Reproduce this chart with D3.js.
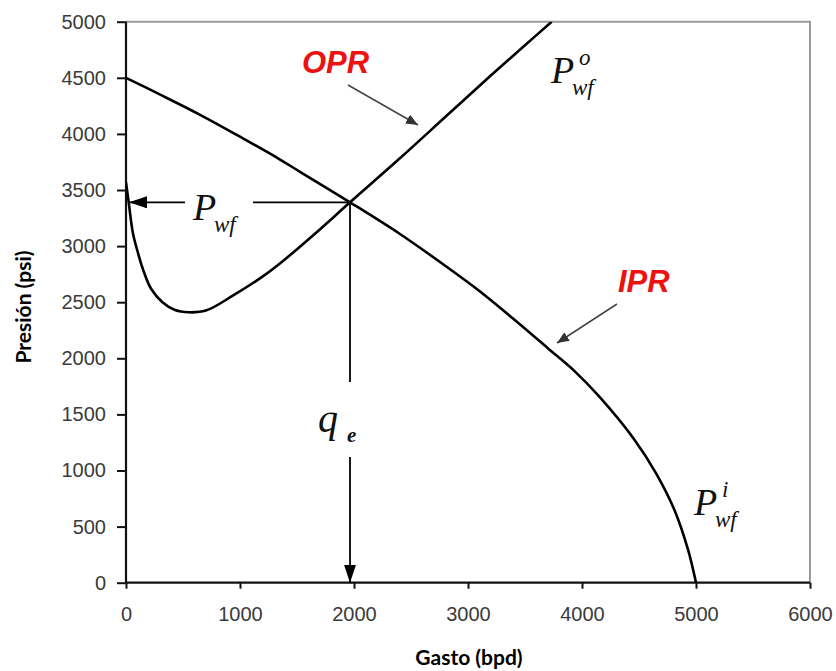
<!DOCTYPE html>
<html>
<head>
<meta charset="utf-8">
<script src="https://cdn.jsdelivr.net/npm/d3@7"></script>
<style>
  html, body { margin: 0; padding: 0; background: #fff; }
  svg { display: block; }
</style>
</head>
<body>
<svg id="chart" width="836" height="671"></svg>
<script>
// ---- data ----
const xTicks = [0, 1000, 2000, 3000, 4000, 5000, 6000];
const yTicks = [0, 500, 1000, 1500, 2000, 2500, 3000, 3500, 4000, 4500, 5000];

// IPR curve (Gasto bpd, Presión psi)
const iprQ = [0, 300, 650, 1000, 1330, 1530, 1965, 2400, 2800, 3100, 3400, 3700, 3930, 4150, 4460, 4650, 4810, 4930, 4985, 5000];
const iprP = [4500, 4350, 4170, 3975, 3785, 3660, 3390, 3110, 2825, 2600, 2350, 2090, 1890, 1660, 1275, 975, 650, 295, 70, 0];

// OPR curve
const oprQ = [0, 25, 60, 105, 150, 220, 320, 430, 550, 700, 940, 1200, 1380, 1675, 1965, 2400, 2800, 3200, 3500, 3734];
const oprP = [3570, 3380, 3120, 2940, 2790, 2620, 2500, 2430, 2410, 2425, 2560, 2730, 2870, 3126, 3390, 3780, 4150, 4520, 4790, 5000];

// operating point
const qe = 1965, pwf = 3390;

// ---- layout ----
const svg = d3.select("#chart");
const L = 126, R = 810, T = 21.7, B = 582.7;
const x = d3.scaleLinear().domain([0, 6000]).range([L, R]);
const y = d3.scaleLinear().domain([0, 5000]).range([B, T]);

const defs = svg.append("defs");
defs.append("clipPath").attr("id", "clip")
  .append("rect").attr("x", L).attr("y", T).attr("width", R - L).attr("height", B - T);
defs.append("marker").attr("id", "blackArrow")
  .attr("viewBox", "0 0 18 12").attr("refX", 18).attr("refY", 6)
  .attr("markerWidth", 18).attr("markerHeight", 12).attr("markerUnits", "userSpaceOnUse")
  .attr("orient", "auto")
  .append("path").attr("d", "M0,0 L18,6 L0,12 Z").attr("fill", "#000");
defs.append("marker").attr("id", "grayArrow")
  .attr("viewBox", "0 0 12 10").attr("refX", 12).attr("refY", 5)
  .attr("markerWidth", 12).attr("markerHeight", 10).attr("markerUnits", "userSpaceOnUse")
  .attr("orient", "auto")
  .append("path").attr("d", "M0,0 L12,5 L0,10 Z").attr("fill", "#333");

// frame (gray top & right)
svg.append("path")
  .attr("d", `M${L},${T} L${R},${T} L${R},${B}`)
  .attr("fill", "none").attr("stroke", "#9a9a9a").attr("stroke-width", 2);

// axes
const yAxis = svg.append("g").attr("transform", `translate(${L},0)`)
  .call(d3.axisLeft(y).tickValues(yTicks).tickSize(9).tickPadding(11).tickFormat(d3.format("d")));
const xAxis = svg.append("g").attr("transform", `translate(0,${B})`)
  .call(d3.axisBottom(x).tickValues(xTicks).tickSize(6).tickPadding(18).tickFormat(d3.format("d")));
[xAxis, yAxis].forEach(g => {
  g.select(".domain").attr("stroke", "#111").attr("stroke-width", 2.2);
  g.selectAll(".tick line").attr("stroke", "#111").attr("stroke-width", 2);
  g.selectAll(".tick text").attr("fill", "#3a3a3a")
    .style("font-family", "'Liberation Sans', Arial, sans-serif").style("font-size", "20px");
});
xAxis.select(".domain").attr("d", `M${L},0H${R}`);
yAxis.select(".domain").attr("d", `M0,${B}V${T}`);

// axis titles
svg.append("text").attr("x", 469).attr("y", 665).attr("text-anchor", "middle")
  .style("font-family", "Lato, 'Open Sans', sans-serif").style("font-weight", "bold").style("font-size", "21px")
  .attr("fill", "#000").text("Gasto (bpd)");
svg.append("text").attr("transform", "translate(31,307) rotate(-90)").attr("text-anchor", "middle")
  .style("font-family", "Lato, 'Open Sans', sans-serif").style("font-weight", "bold").style("font-size", "21px")
  .attr("fill", "#000").text("Presión (psi)");

// curves
const line = d3.line().x(d => x(d[0])).y(d => y(d[1])).curve(d3.curveCatmullRom.alpha(0.5));
const plot = svg.append("g").attr("clip-path", "url(#clip)");
plot.append("path").datum(iprQ.map((q, i) => [q, iprP[i]]))
  .attr("d", line).attr("fill", "none").attr("stroke", "#000").attr("stroke-width", 2.6);
plot.append("path").datum(oprQ.map((q, i) => [q, oprP[i]]))
  .attr("d", line).attr("fill", "none").attr("stroke", "#000").attr("stroke-width", 2.6);

// operating point guide lines
const ix = x(qe), iy = y(pwf);
svg.append("line").attr("x1", ix).attr("y1", iy).attr("x2", 253).attr("y2", iy)
  .attr("stroke", "#000").attr("stroke-width", 1.8);
svg.append("line").attr("x1", 185).attr("y1", iy).attr("x2", x(0) + 3).attr("y2", iy)
  .attr("stroke", "#000").attr("stroke-width", 1.8).attr("marker-end", "url(#blackArrow)");
svg.append("line").attr("x1", ix).attr("y1", iy).attr("x2", ix).attr("y2", 382)
  .attr("stroke", "#000").attr("stroke-width", 1.8);
svg.append("line").attr("x1", ix).attr("y1", 457).attr("x2", ix).attr("y2", y(0))
  .attr("stroke", "#000").attr("stroke-width", 1.8).attr("marker-end", "url(#blackArrow)");

// red labels with arrows
const redStyle = s => s.style("font-family", "'Liberation Sans', Arial, sans-serif")
  .style("font-weight", "bold").style("font-style", "italic").style("font-size", "31px").attr("fill", "#ee1111");
svg.append("text").attr("x", 302).attr("y", 73).text("OPR").call(redStyle);
svg.append("text").attr("x", 618).attr("y", 292).text("IPR").call(redStyle);
svg.append("line").attr("x1", 348).attr("y1", 85).attr("x2", 418).attr("y2", 125)
  .attr("stroke", "#444").attr("stroke-width", 1.5).attr("marker-end", "url(#grayArrow)");
svg.append("line").attr("x1", 617).attr("y1", 304).attr("x2", 557).attr("y2", 343)
  .attr("stroke", "#444").attr("stroke-width", 1.5).attr("marker-end", "url(#grayArrow)");

// math labels
const serif = "'Liberation Serif', 'Times New Roman', serif";
function mathLabel(px, py, sup, supDx) {
  svg.append("text").attr("x", px).attr("y", py)
    .style("font-family", serif).style("font-style", "italic").style("font-size", "38px")
    .attr("fill", "#111").text("P");
  svg.append("text").attr("x", px + 21).attr("y", py + 12)
    .style("font-family", serif).style("font-style", "italic").style("font-size", "23px")
    .attr("fill", "#111").text("wf");
  if (sup) {
    svg.append("text").attr("x", px + supDx).attr("y", py - 18)
      .style("font-family", serif).style("font-style", "italic").style("font-size", "23px")
      .attr("fill", "#111").text(sup);
  }
}
mathLabel(193, 220, null, 0);
mathLabel(551, 83, "o", 28);
mathLabel(694, 515, "i", 28);

svg.append("text").attr("x", 318).attr("y", 432)
  .style("font-family", serif).style("font-style", "italic").style("font-size", "40px")
  .attr("fill", "#111").text("q");
svg.append("text").attr("x", 347).attr("y", 442)
  .style("font-family", serif).style("font-style", "italic").style("font-weight", "bold").style("font-size", "21px")
  .attr("fill", "#111").text("e");
</script>
</body>
</html>
